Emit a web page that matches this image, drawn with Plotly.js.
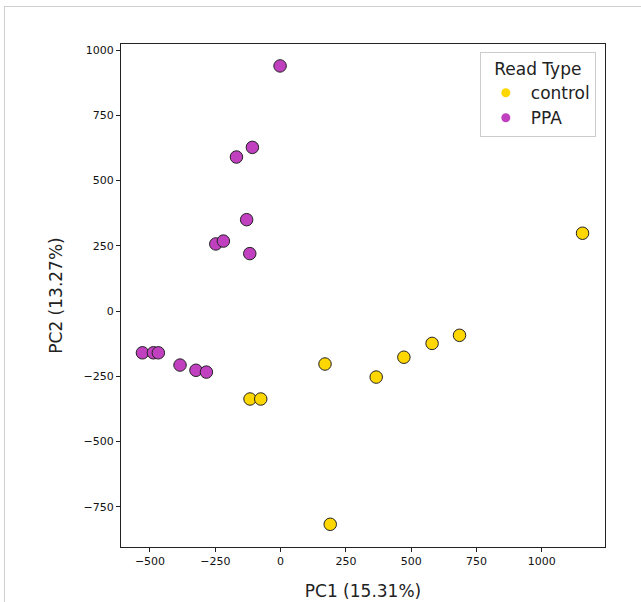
<!DOCTYPE html>
<html>
<head>
<meta charset="utf-8">
<script src="https://cdn.plot.ly/plotly-3.0.1.min.js"></script>
<style>
  html, body { margin: 0; padding: 0; background: #fff; }
  #wrap { position: relative; width: 641px; height: 602px; overflow: hidden; }
  #chart { position: absolute; left: 0; top: 0; width: 641px; height: 602px; }
  #frame { position: absolute; left: 4px; top: 6px; width: 700px; height: 700px;
           border-left: 1px solid #cfcfcf; border-top: 1px solid #cfcfcf; pointer-events: none; }
</style>
</head>
<body>
<div id="wrap">
  <div id="chart"></div>
  <div id="frame"></div>
</div>
<script>
// Data
const groups = ["control", "PPA"];
const controlPC1 = [-117, -76, 170, 366, 472, 580, 685, 1156, 190];
const controlPC2 = [-337, -337, -203, -253, -177, -124, -93, 298, -817];
const ppaPC1 = [-2, -169, -108, -130, -248, -219, -118, -529, -487, -468, -385, -324, -284];
const ppaPC2 = [939, 590, 627, 350, 257, 268, 220, -160, -160, -160, -207, -227, -234];
const xTicks = [-500, -250, 0, 250, 500, 750, 1000];
const yTicks = [-750, -500, -250, 0, 250, 500, 750, 1000];

const colors = {control: "#FFD700", PPA: "#C040C0"};
const FONT = "DejaVu Sans, sans-serif";

function pointTrace(name, xs, ys) {
  return {
    type: "scatter", mode: "markers", name: name, x: xs, y: ys,
    showlegend: false, hoverinfo: "x+y",
    marker: {size: 12.5, color: colors[name], line: {color: "#222", width: 1}}
  };
}
function legendTrace(name) {
  return {
    type: "scatter", mode: "markers", name: name, x: [null], y: [null],
    showlegend: true,
    marker: {size: 9, color: colors[name], line: {width: 0}}
  };
}

const traces = [
  pointTrace("control", controlPC1, controlPC2),
  pointTrace("PPA", ppaPC1, ppaPC2),
  legendTrace(groups[0]),
  legendTrace(groups[1])
];

const axisCommon = {
  showgrid: false, zeroline: false, showline: true, mirror: true,
  linecolor: "#222", linewidth: 1,
  ticks: "outside", ticklen: 4, tickwidth: 1, tickcolor: "#222",
  tickfont: {family: FONT, size: 11, color: "#111"},
  automargin: false
};

const layout = {
  width: 641, height: 602,
  margin: {l: 121, r: 36, t: 44, b: 55},
  paper_bgcolor: "#fff", plot_bgcolor: "#fff",
  font: {family: FONT, color: "#222"},
  xaxis: Object.assign({}, axisCommon, {
    range: [-611, 1242], tickmode: "array", tickvals: xTicks,
    title: {text: "PC1 (15.31%)", font: {family: FONT, size: 17, color: "#222"}, standoff: 17}
  }),
  yaxis: Object.assign({}, axisCommon, {
    range: [-904, 1023], tickmode: "array", tickvals: yTicks,
    title: {text: "PC2 (13.27%)", font: {family: FONT, size: 17, color: "#222"}, standoff: 16}
  }),
  legend: {
    x: 0.981, y: 0.984, xanchor: "right", yanchor: "top",
    bgcolor: "rgba(255,255,255,0.8)", bordercolor: "#cccccc", borderwidth: 1,
    font: {family: FONT, size: 17, color: "#222"},
    title: {text: "Read Type", side: "top center", font: {family: FONT, size: 17, color: "#222"}},
    itemwidth: 40, tracegroupgap: 0
  },
  showlegend: true
};

Plotly.newPlot("chart", traces, layout, {displayModeBar: false, staticPlot: true});
</script>
</body>
</html>
